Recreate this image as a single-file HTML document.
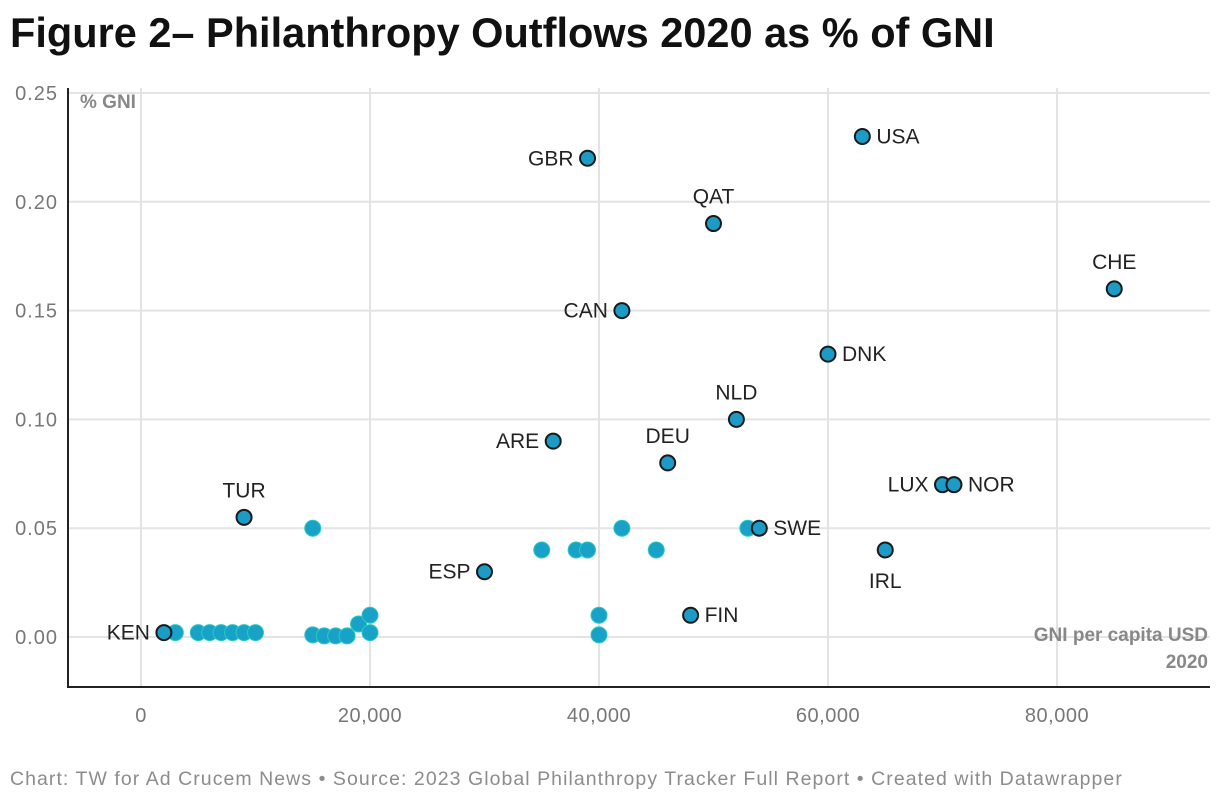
<!DOCTYPE html>
<html><head><meta charset="utf-8"><style>
body{margin:0;background:#fff;font-family:"Liberation Sans",sans-serif;}
#wrap{position:relative;width:1220px;height:804px;overflow:hidden;}
h1{position:absolute;left:10px;top:9px;margin:0;font-size:41.5px;font-weight:bold;color:#111;letter-spacing:0px;}
#foot{position:absolute;left:10px;top:768px;font-size:19.5px;color:#8c8c8c;letter-spacing:1.05px;}
</style></head><body>
<div id="wrap">
<h1>Figure 2– Philanthropy Outflows 2020 as % of GNI</h1>
<svg id="chart" width="1220" height="804" style="position:absolute;left:0;top:0"></svg>
<div id="foot">Chart: TW for Ad Crucem News • Source: 2023 Global Philanthropy Tracker Full Report • Created with Datawrapper</div>
</div>
<script>
const xTicks=[0,20000,40000,60000,80000];
const xTickLabels=["0","20,000","40,000","60,000","80,000"];
const yTicks=[0,0.05,0.10,0.15,0.20,0.25];
const yTickLabels=["0.00","0.05","0.10","0.15","0.20","0.25"];
const labCodes=["KEN","TUR","ESP","ARE","GBR","CAN","DEU","FIN","QAT","NLD","SWE","DNK","USA","IRL","LUX","NOR","CHE"];
const labX=[2000,9000,30000,36000,39000,42000,46000,48000,50000,52000,54000,60000,63000,65000,70000,71000,85000];
const labY=[0.002,0.055,0.03,0.09,0.22,0.15,0.08,0.01,0.19,0.10,0.05,0.13,0.23,0.04,0.07,0.07,0.16];
const labPos=["l","t","l","l","l","l","t","r","t","t","r","r","r","b","l","r","t"];
const otherX=[3000,5000,6000,7000,8000,9000,10000,15000,16000,17000,18000,19000,20000,20000,15000,35000,38000,39000,42000,45000,53000,40000,40000];
const otherY=[0.002,0.002,0.002,0.002,0.002,0.002,0.002,0.001,0.0005,0.0005,0.0005,0.006,0.01,0.002,0.05,0.04,0.04,0.04,0.05,0.04,0.05,0.01,0.001];
const NS="http://www.w3.org/2000/svg";
const svg=document.getElementById('chart');
const L=68,R=1210,T=88,B=687;
const sx=v=>141+v*(229/20000);
const sy=v=>637-v*(544/0.25);
function mk(t,a,p){const e=document.createElementNS(NS,t);for(const k in a)e.setAttribute(k,a[k]);(p||svg).appendChild(e);return e;}
xTicks.forEach((v,i)=>{
 const l=mk('line',{x1:sx(v),x2:sx(v),y1:T,y2:B,stroke:'#e3e3e3','stroke-width':2});
 
 
 const t=mk('text',{x:sx(v),y:722,'text-anchor':'middle','font-size':20,'letter-spacing':0.5,fill:'#777'});t.textContent=xTickLabels[i];
 
 
});
yTicks.forEach((v,i)=>{
 const l=mk('line',{x1:L,x2:R,y1:sy(v),y2:sy(v),stroke:'#e3e3e3','stroke-width':2});
 
 
 const t=mk('text',{x:58,y:sy(v)+7,'text-anchor':'end','font-size':20,'letter-spacing':1,fill:'#777'});t.textContent=yTickLabels[i];
 
 
});
const ax=mk('path',{d:`M${L},${T}V${B}H${R}`,fill:'none',stroke:'#222','stroke-width':2});


const yt=mk('text',{x:80,y:108,'font-size':19,'font-weight':'bold',fill:'#888'});yt.textContent='% GNI';


const xt=mk('text',{x:1208,y:641,'text-anchor':'end','font-size':19,'font-weight':'bold',fill:'#888'});
const s1=mk('tspan',{x:1208},xt);s1.textContent='GNI per capita USD';
const s2=mk('tspan',{x:1208,dy:27},xt);s2.textContent='2020';


otherX.forEach((v,i)=>{
 const c=mk('circle',{cx:sx(v),cy:sy(otherY[i]),r:8,fill:'#18a2c8',stroke:'#2cc9c0','stroke-width':1});
 
 
});
labX.forEach((v,i)=>{
 const cx=sx(v),cy=sy(labY[i]);
 const c=mk('circle',{cx:cx,cy:cy,r:7.5,fill:'#1b9bc6',stroke:'#1a1a1a','stroke-width':2});
 
 
 const p=labPos[i];let x=cx,y=cy+7,a='middle';
 if(p==='l'){x=cx-14;a='end';}else if(p==='r'){x=cx+14;a='start';}else if(p==='t'){y=cy-20;}else{y=cy+38;}
 const t=mk('text',{x:x,y:y,'text-anchor':a,'font-size':21,fill:'#222'});t.textContent=labCodes[i];
 
 
});
</script>
</body></html>
